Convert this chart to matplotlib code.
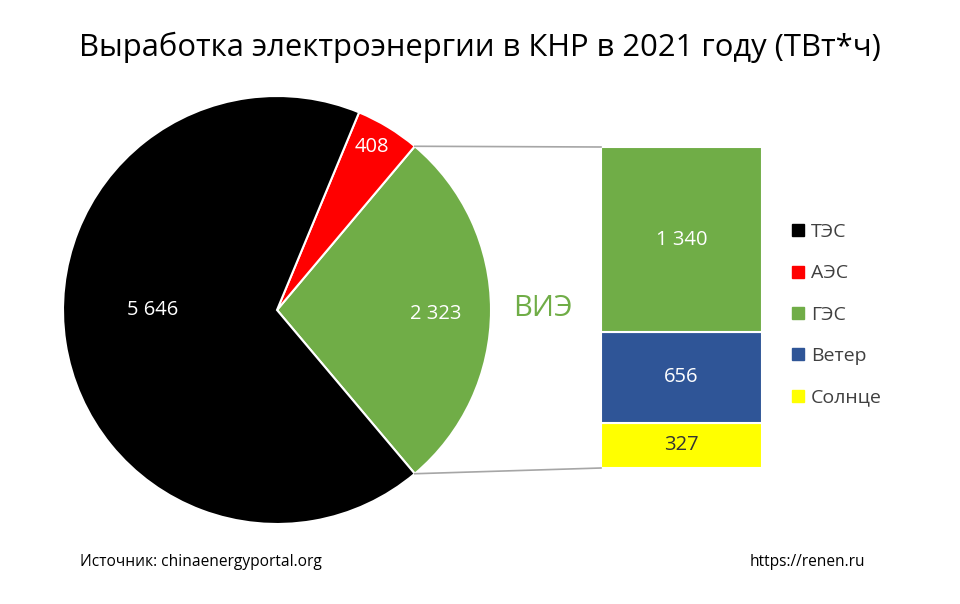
import numpy as np
import matplotlib
matplotlib.use('Agg')
import matplotlib.pyplot as plt
from matplotlib.lines import Line2D

plt.rcParams['font.family'] = ['Open Sans', 'DejaVu Sans']

# pie data (TWh)
pie_labels = ['ВИЭ', 'АЭС', 'ТЭС']
pie_values = [2323, 408, 5646]
pie_colors = ['#70ad47', '#ff0000', '#000000']

# renewables breakdown, bottom to top
bar_labels = ['Солнце', 'Ветер', 'ГЭС']
bar_values = [327, 656, 1340]
bar_colors = ['#ffff00', '#2f5597', '#70ad47']
bar_text_colors = ['#333333', 'white', 'white']

legend_labels = ['ТЭС', 'АЭС', 'ГЭС', 'Ветер', 'Солнце']
legend_colors = ['#000000', '#ff0000', '#70ad47', '#2f5597', '#ffff00']


def fmt(v):
    return f'{v:,}'.replace(',', ' ')


W, H = 960, 604
fig = plt.figure(figsize=(W / 100, H / 100), dpi=100)
ax = fig.add_axes([0, 0, 1, 1])

# pie (green slice centred on the right side)
cx, cy, r = 277, 294, 214
green_span = 360 * pie_values[0] / sum(pie_values)
start = -green_span / 2
wedges, texts = ax.pie(
    pie_values,
    colors=pie_colors,
    startangle=start,
    counterclock=True,
    center=(cx, cy),
    radius=r,
    labels=[fmt(v) for v in pie_values],
    wedgeprops=dict(edgecolor='white', linewidth=1.5),
    frame=True,
)
ax.set_xlim(0, W)
ax.set_ylim(0, H)
ax.set_aspect('equal')
ax.axis('off')

# label placement: (distance from centre, angle shift from slice middle)
label_pos = [(0.74, -1.5), (0.88, 1.0), (0.58, -8.7)]
for w, t, (d, shift) in zip(wedges, texts, label_pos):
    mid = np.deg2rad((w.theta1 + w.theta2) / 2 + shift)
    t.set_position((cx + d * r * np.cos(mid), cy + d * r * np.sin(mid)))
    t.set_ha('center')
    t.set_va('center')
    t.set_color('white')
    t.set_fontsize(14.5)

ax.text(543, 296, 'ВИЭ', color='#70ad47', fontsize=21, ha='center', va='center')

# stacked bar of renewables
bx0, bx1 = 601, 762
by0, by1 = 136, 457
scale = (by1 - by0) / sum(bar_values)
bottom = by0
for lab, v, c, tc in zip(bar_labels, bar_values, bar_colors, bar_text_colors):
    h = v * scale
    ax.bar((bx0 + bx1) / 2, h, width=bx1 - bx0, bottom=bottom, color=c,
           edgecolor='white', linewidth=1.5)
    ax.text((bx0 + bx1) / 2, bottom + h / 2, fmt(v), color=tc, fontsize=14.5,
            ha='center', va='center')
    bottom += h

# connector lines from pie to bar
for ang, by in [(wedges[0].theta2, by1), (wedges[0].theta1, by0)]:
    a = np.deg2rad(ang)
    ax.plot([cx + r * np.cos(a), bx0], [cy + r * np.sin(a), by],
            color='#a6a6a6', linewidth=1.2)

# legend
handles = [Line2D([], [], marker='s', linestyle='none', markersize=9,
                  markerfacecolor=c, markeredgecolor=c) for c in legend_colors]
fig.legend(handles, legend_labels, loc='center left',
           bbox_to_anchor=(0.803, 0.479), frameon=False, fontsize=14,
           handletextpad=0.15, labelspacing=1.2, handlelength=1.0,
           labelcolor='#404040')

# title and footer
fig.text(0.5, 1 - 47 / H, 'Выработка электроэнергии в КНР в 2021 году (ТВт*ч)',
         ha='center', va='center', fontsize=22.3)
fig.text(80 / W, 1 - 562 / H, 'Источник: chinaenergyportal.org',
         ha='left', va='center', fontsize=11.2)
fig.text(865 / W, 1 - 562 / H, 'https://renen.ru',
         ha='right', va='center', fontsize=11.2)

fig.savefig('out.png', dpi=100)
